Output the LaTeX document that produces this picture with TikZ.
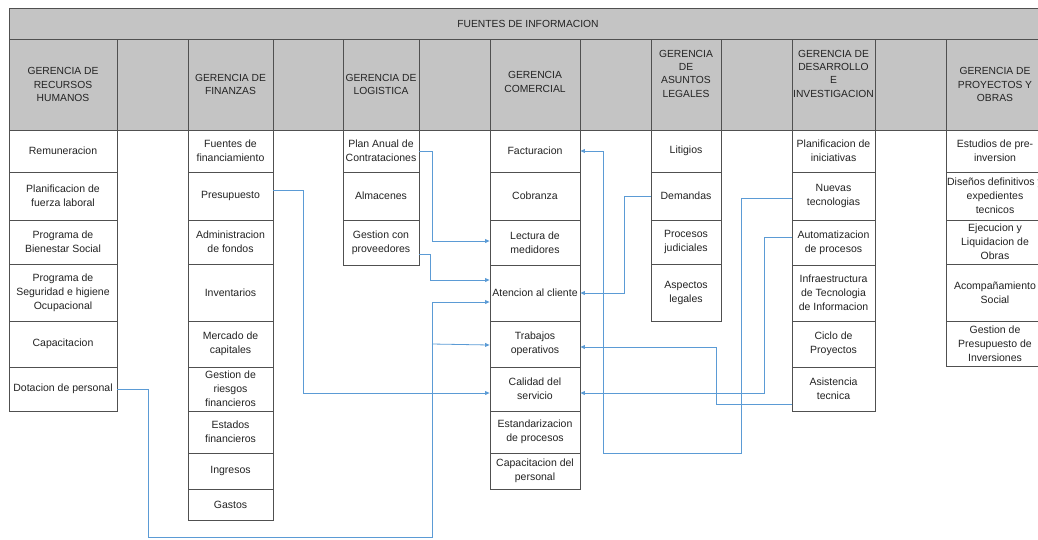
\documentclass[tikz,border=0pt]{standalone}
\usepackage{fontspec}
\setmainfont{Liberation Sans}
\usetikzlibrary{arrows.meta,calc}
\definecolor{hdrgray}{RGB}{196,196,196}
\definecolor{rulegray}{RGB}{80,80,80}
\definecolor{linkblue}{RGB}{91,155,213}
\definecolor{inkgray}{RGB}{35,35,35}

% a box given by its corners: name, x1, y1, x2, y2, style, text
\newcommand{\boxat}[7]{%
  \node[#6, minimum width={(#4-#2)*1pt}, minimum height={(#5-#3)*1pt}]
    (#1) at ({(#2+#4)/2},{(#3+#5)/2}) {#7};}

\tikzset{
  cell/.style={draw=rulegray, line width=0.8pt, fill=white, inner sep=0pt,
    align=center, text=inkgray, font=\fontsize{10.5}{14}\selectfont},
  hdr/.style={cell, fill=hdrgray, font=\fontsize{10.3}{13.3}\selectfont},
  hdrtext/.style={inner sep=0pt, align=center, text=inkgray,
    font=\fontsize{10.3}{13.3}\selectfont},
  link/.style={draw=linkblue, line width=0.8pt,
    -{Triangle[length=4.5pt,width=3.8pt]}},
  plain/.style={draw=linkblue, line width=0.8pt},
}

\begin{document}
\begin{tikzpicture}[x=1pt,y=-1pt]
\useasboundingbox (0,0) rectangle (1038,539);
\clip (0,0) rectangle (1038,539);

% title bar
\boxat{title}{9}{8}{1047}{39}{hdr}{FUENTES DE INFORMACION}

% header row
\boxat{hRRHH}{9}{39}{117}{130}{hdr}{GERENCIA DE\\RECURSOS\\HUMANOS}
\boxat{hGapA}{117}{39}{188}{130}{hdr}{}
\boxat{hFIN}{188}{39}{273}{130}{hdr}{GERENCIA DE\\FINANZAS}
\boxat{hGapB}{273}{39}{343}{130}{hdr}{}
\boxat{hLOG}{343}{39}{419}{130}{hdr}{GERENCIA DE\\LOGISTICA}
\boxat{hGapC}{419}{39}{490}{130}{hdr}{}
\boxat{hCOM}{490}{39}{580}{130}{hdr}{}
\boxat{hGapD}{580}{39}{651}{130}{hdr}{}
\boxat{hLEG}{651}{39}{721}{130}{hdr}{}
\boxat{hGapE}{721}{39}{792}{130}{hdr}{}
\boxat{hDI}{792}{39}{875}{130}{hdr}{}
\boxat{hGapF}{875}{39}{946}{130}{hdr}{}
\boxat{hPRO}{946}{39}{1044}{130}{hdr}{GERENCIA DE\\PROYECTOS Y\\OBRAS}
\node[hdrtext] (tCOM) at ($(hCOM.center)+(0,-2.5)$) {GERENCIA\\COMERCIAL};
\node[hdrtext] (tLEG) at ($(hLEG.center)+(0,-11)$) {GERENCIA\\DE\\ASUNTOS\\LEGALES};
\node[hdrtext] (tDI) at ($(hDI.center)+(0,-11)$) {GERENCIA DE\\DESARROLLO\\E\\INVESTIGACION};

% Recursos Humanos
\boxat{remun}{9}{130}{117}{172}{cell}{Remuneracion}
\boxat{planfl}{9}{172}{117}{220}{cell}{Planificacion de\\fuerza laboral}
\boxat{bienestar}{9}{220}{117}{264}{cell}{Programa de\\Bienestar Social}
\boxat{seguridad}{9}{264}{117}{321}{cell}{Programa de\\Seguridad e higiene\\Ocupacional}
\boxat{capac}{9}{321}{117}{367}{cell}{Capacitacion}
\boxat{dotacion}{9}{367}{117}{411}{cell}{Dotacion de personal}

% Finanzas
\boxat{fuentes}{188}{130}{273}{172}{cell}{Fuentes de\\financiamiento}
\boxat{presup}{188}{172}{273}{220}{cell}{Presupuesto}
\boxat{adminf}{188}{220}{273}{264}{cell}{Administracion\\de fondos}
\boxat{invent}{188}{264}{273}{321}{cell}{Inventarios}
\boxat{mercado}{188}{321}{273}{367}{cell}{Mercado de\\capitales}
\boxat{riesgos}{188}{367}{273}{411}{cell}{Gestion de\\riesgos\\financieros}
\boxat{estados}{188}{411}{273}{453}{cell}{Estados\\financieros}
\boxat{ingresos}{188}{453}{273}{489}{cell}{Ingresos}
\boxat{gastos}{188}{489}{273}{520}{cell}{Gastos}

% Logistica
\boxat{planA}{343}{130}{419}{172}{cell}{Plan Anual de\\Contrataciones}
\boxat{almac}{343}{172}{419}{220}{cell}{Almacenes}
\boxat{gprov}{343}{220}{419}{265}{cell}{Gestion con\\proveedores}

% Comercial
\boxat{factur}{490}{130}{580}{172}{cell}{Facturacion}
\boxat{cobranza}{490}{172}{580}{220}{cell}{Cobranza}
\boxat{lectura}{490}{220}{580}{265}{cell}{Lectura de\\medidores}
\boxat{atencion}{490}{265}{580}{321}{cell}{Atencion al cliente}
\boxat{trabajos}{490}{321}{580}{367}{cell}{Trabajos\\operativos}
\boxat{calidad}{490}{367}{580}{411}{cell}{Calidad del\\servicio}
\boxat{estand}{490}{411}{580}{453}{cell}{Estandarizacion\\de procesos}
\boxat{capper}{490}{453}{580}{489}{cell}{Capacitacion del\\personal}

% Asuntos Legales
\boxat{litigios}{651}{130}{721}{172}{cell}{Litigios}
\boxat{demandas}{651}{172}{721}{220}{cell}{Demandas}
\boxat{procjud}{651}{220}{721}{264}{cell}{Procesos\\judiciales}
\boxat{asplegal}{651}{264}{721}{321}{cell}{Aspectos\\legales}

% Desarrollo e Investigacion
\boxat{planini}{792}{130}{875}{172}{cell}{Planificacion de\\iniciativas}
\boxat{nuevas}{792}{172}{875}{220}{cell}{Nuevas\\tecnologias}
\boxat{autom}{792}{220}{875}{265}{cell}{Automatizacion\\de procesos}
\boxat{infra}{792}{265}{875}{321}{cell}{Infraestructura\\de Tecnologia\\de Informacion}
\boxat{ciclo}{792}{321}{875}{367}{cell}{Ciclo de\\Proyectos}
\boxat{asist}{792}{367}{875}{411}{cell}{Asistencia\\tecnica}

% Proyectos y Obras
\boxat{estudios}{946}{130}{1044}{172}{cell}{Estudios de pre-\\inversion}
\boxat{disenos}{946}{172}{1044}{220}{cell}{Diseños definitivos y\\expedientes\\tecnicos}
\boxat{ejec}{946}{220}{1044}{264}{cell}{Ejecucion y\\Liquidacion de\\Obras}
\boxat{acomp}{946}{264}{1044}{321}{cell}{Acompañamiento\\Social}
\boxat{gespre}{946}{321}{1044}{366}{cell}{Gestion de\\Presupuesto de\\Inversiones}

% connectors
\coordinate (busDot) at (432,537);
\coordinate (loopN) at (603,453);

\draw[link] (planA.east) -- ++(13,0) |- ($(lectura.west)+(0,-1.5)$);
\draw[link] ($(gprov.east)+(0,12)$) -- ++(11,0) |- ($(atencion.west)+(0,-13)$);
\draw[link] (dotacion.east) -- ++(31,0) |- (busDot) |- ($(atencion.west)+(0,9)$);
\draw[link] (busDot |- trabajos.west) -- ($(trabajos.west)+(0,1)$);
\draw[link] ($(presup.east)+(0,-6)$) -- ++(30,0) |- ($(calidad.west)+(0,4)$);

\draw[link] (demandas.west) -- ++(-26,0) |- (atencion.east);
\draw[link] ($(nuevas.west)+(0,2)$) -- ++(-50,0) |- (loopN) |- (factur.east);
\draw[link] ($(autom.west)+(0,-5)$) -- ++(-27,0) |- ($(calidad.east)+(0,4)$);
\draw[link] ($(asist.west)+(0,15)$) -- ++(-75,0) |- ($(trabajos.east)+(0,3)$);
\end{tikzpicture}
\end{document}
